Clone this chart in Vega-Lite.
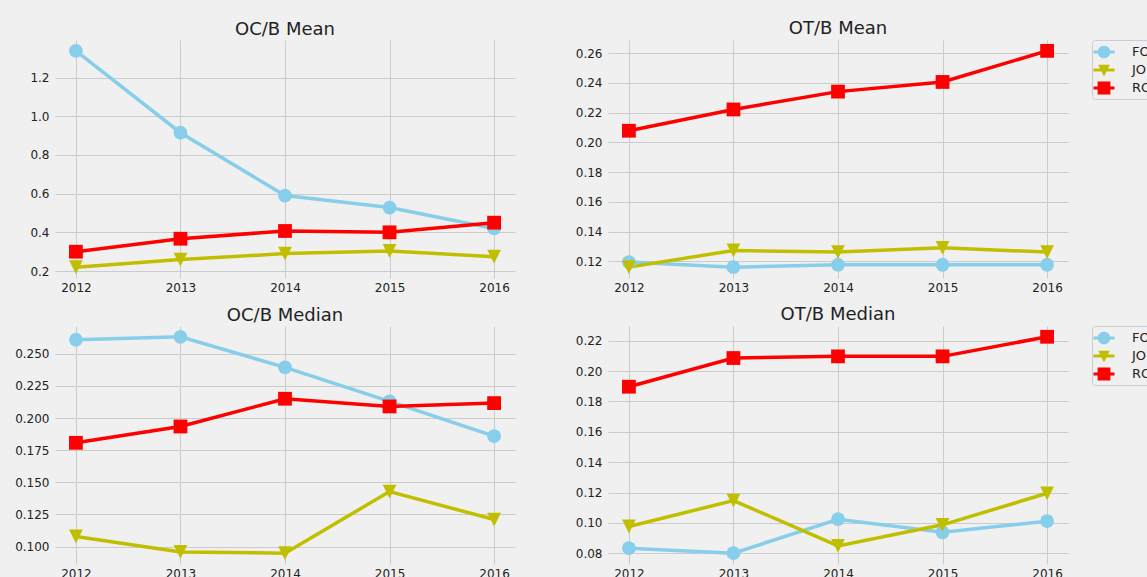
{
  "$schema": "https://vega.github.io/schema/vega-lite/v6.json",
  "background": "#f0f0f0",
  "padding": {"left": 14, "top": 20, "right": 0, "bottom": 0},
  "data": {"values": [
    {"panel": "OC/B Mean", "series": "FO", "year": 2012, "value": 1.338},
    {"panel": "OC/B Mean", "series": "FO", "year": 2013, "value": 0.915},
    {"panel": "OC/B Mean", "series": "FO", "year": 2014, "value": 0.590},
    {"panel": "OC/B Mean", "series": "FO", "year": 2015, "value": 0.528},
    {"panel": "OC/B Mean", "series": "FO", "year": 2016, "value": 0.420},
    {"panel": "OC/B Mean", "series": "JO", "year": 2012, "value": 0.220},
    {"panel": "OC/B Mean", "series": "JO", "year": 2013, "value": 0.259},
    {"panel": "OC/B Mean", "series": "JO", "year": 2014, "value": 0.290},
    {"panel": "OC/B Mean", "series": "JO", "year": 2015, "value": 0.304},
    {"panel": "OC/B Mean", "series": "JO", "year": 2016, "value": 0.274},
    {"panel": "OC/B Mean", "series": "RO", "year": 2012, "value": 0.300},
    {"panel": "OC/B Mean", "series": "RO", "year": 2013, "value": 0.367},
    {"panel": "OC/B Mean", "series": "RO", "year": 2014, "value": 0.407},
    {"panel": "OC/B Mean", "series": "RO", "year": 2015, "value": 0.400},
    {"panel": "OC/B Mean", "series": "RO", "year": 2016, "value": 0.450},
    {"panel": "OT/B Mean", "series": "FO", "year": 2012, "value": 0.1196},
    {"panel": "OT/B Mean", "series": "FO", "year": 2013, "value": 0.1162},
    {"panel": "OT/B Mean", "series": "FO", "year": 2014, "value": 0.1178},
    {"panel": "OT/B Mean", "series": "FO", "year": 2015, "value": 0.1178},
    {"panel": "OT/B Mean", "series": "FO", "year": 2016, "value": 0.1178},
    {"panel": "OT/B Mean", "series": "JO", "year": 2012, "value": 0.1162},
    {"panel": "OT/B Mean", "series": "JO", "year": 2013, "value": 0.1274},
    {"panel": "OT/B Mean", "series": "JO", "year": 2014, "value": 0.1263},
    {"panel": "OT/B Mean", "series": "JO", "year": 2015, "value": 0.1292},
    {"panel": "OT/B Mean", "series": "JO", "year": 2016, "value": 0.1263},
    {"panel": "OT/B Mean", "series": "RO", "year": 2012, "value": 0.2079},
    {"panel": "OT/B Mean", "series": "RO", "year": 2013, "value": 0.2222},
    {"panel": "OT/B Mean", "series": "RO", "year": 2014, "value": 0.2342},
    {"panel": "OT/B Mean", "series": "RO", "year": 2015, "value": 0.2407},
    {"panel": "OT/B Mean", "series": "RO", "year": 2016, "value": 0.2616},
    {"panel": "OC/B Median", "series": "FO", "year": 2012, "value": 0.2609},
    {"panel": "OC/B Median", "series": "FO", "year": 2013, "value": 0.2632},
    {"panel": "OC/B Median", "series": "FO", "year": 2014, "value": 0.2394},
    {"panel": "OC/B Median", "series": "FO", "year": 2015, "value": 0.2129},
    {"panel": "OC/B Median", "series": "FO", "year": 2016, "value": 0.1859},
    {"panel": "OC/B Median", "series": "JO", "year": 2012, "value": 0.1078},
    {"panel": "OC/B Median", "series": "JO", "year": 2013, "value": 0.0958},
    {"panel": "OC/B Median", "series": "JO", "year": 2014, "value": 0.0948},
    {"panel": "OC/B Median", "series": "JO", "year": 2015, "value": 0.1428},
    {"panel": "OC/B Median", "series": "JO", "year": 2016, "value": 0.1210},
    {"panel": "OC/B Median", "series": "RO", "year": 2012, "value": 0.1807},
    {"panel": "OC/B Median", "series": "RO", "year": 2013, "value": 0.1934},
    {"panel": "OC/B Median", "series": "RO", "year": 2014, "value": 0.2150},
    {"panel": "OC/B Median", "series": "RO", "year": 2015, "value": 0.2090},
    {"panel": "OC/B Median", "series": "RO", "year": 2016, "value": 0.2116},
    {"panel": "OT/B Median", "series": "FO", "year": 2012, "value": 0.0833},
    {"panel": "OT/B Median", "series": "FO", "year": 2013, "value": 0.0800},
    {"panel": "OT/B Median", "series": "FO", "year": 2014, "value": 0.1024},
    {"panel": "OT/B Median", "series": "FO", "year": 2015, "value": 0.0938},
    {"panel": "OT/B Median", "series": "FO", "year": 2016, "value": 0.1011},
    {"panel": "OT/B Median", "series": "JO", "year": 2012, "value": 0.0976},
    {"panel": "OT/B Median", "series": "JO", "year": 2013, "value": 0.1147},
    {"panel": "OT/B Median", "series": "JO", "year": 2014, "value": 0.0848},
    {"panel": "OT/B Median", "series": "JO", "year": 2015, "value": 0.0987},
    {"panel": "OT/B Median", "series": "JO", "year": 2016, "value": 0.1195},
    {"panel": "OT/B Median", "series": "RO", "year": 2012, "value": 0.1897},
    {"panel": "OT/B Median", "series": "RO", "year": 2013, "value": 0.2086},
    {"panel": "OT/B Median", "series": "RO", "year": 2014, "value": 0.2097},
    {"panel": "OT/B Median", "series": "RO", "year": 2015, "value": 0.2097},
    {"panel": "OT/B Median", "series": "RO", "year": 2016, "value": 0.2226}
  ]},
  "columns": 2,
  "spacing": {"row": 13, "column": 60},
  "resolve": {
    "scale": {"x": "independent", "y": "independent", "color": "independent", "shape": "independent"},
    "axis": {"x": "independent", "y": "independent"},
    "legend": {"color": "independent", "shape": "independent"}
  },
  "concat": [
    {
      "title": {"text": "OC/B Mean"},
      "width": 460, "height": 238,
      "transform": [{"filter": "datum.panel === 'OC/B Mean'"}],
      "encoding": {
        "x": {"field": "year", "type": "quantitative", "scale": {"domain": [2011.8, 2016.2], "nice": false, "zero": false}, "axis": {"values": [2012, 2013, 2014, 2015, 2016], "format": "d", "title": null}},
        "y": {"field": "value", "type": "quantitative", "scale": {"domain": [0.164, 1.394], "nice": false, "zero": false}, "axis": {"values": [0.2, 0.4, 0.6, 0.8, 1.0, 1.2], "format": ".1f", "title": null}},
        "color": {"field": "series", "type": "nominal", "scale": {"domain": ["FO", "JO", "RO"], "range": ["#87ceeb", "#bfbf00", "#ff0000"]}, "legend": null}
      },
      "layer": [
        {"mark": {"type": "line", "strokeWidth": 3.5}},
        {"mark": {"type": "point", "filled": true, "opacity": 1, "size": 190},
         "encoding": {"shape": {"field": "series", "type": "nominal", "scale": {"domain": ["FO", "JO", "RO"], "range": ["circle", "M-1,-1L1,-1L0,1Z", "square"]}, "legend": null}}}
      ]
    },
    {
      "title": {"text": "OT/B Mean"},
      "width": 460, "height": 238,
      "transform": [{"filter": "datum.panel === 'OT/B Mean'"}],
      "encoding": {
        "x": {"field": "year", "type": "quantitative", "scale": {"domain": [2011.8, 2016.2], "nice": false, "zero": false}, "axis": {"values": [2012, 2013, 2014, 2015, 2016], "format": "d", "title": null}},
        "y": {"field": "value", "type": "quantitative", "scale": {"domain": [0.1089, 0.2689], "nice": false, "zero": false}, "axis": {"values": [0.12, 0.14, 0.16, 0.18, 0.20, 0.22, 0.24, 0.26], "format": ".2f", "title": null}}
      },
      "resolve": {"scale": {"shape": "independent", "color": "independent"}, "legend": {"color": "independent", "shape": "independent"}},
      "layer": [
        {"mark": {"type": "line", "strokeWidth": 3.5},
         "encoding": {"color": {"field": "series", "type": "nominal", "scale": {"domain": ["FO", "JO", "RO"], "range": ["#87ceeb", "#bfbf00", "#ff0000"]}, "legend": null}}},
        {"mark": {"type": "point", "filled": true, "opacity": 1, "size": 190},
         "encoding": {
           "color": {"field": "series", "type": "nominal", "scale": {"domain": ["FO", "JO", "RO"], "range": ["#87ceeb", "#bfbf00", "#ff0000"]}, "legend": null},
           "shape": {"field": "series", "type": "nominal", "scale": {"domain": ["FO", "JO", "RO"], "range": ["circle", "M-1,-1L1,-1L0,1Z", "square"]}, "legend": null}}},
        {"transform": [{"filter": "false"}],
         "mark": {"type": "point", "filled": true, "opacity": 1},
         "encoding": {
           "color": {"field": "series", "type": "nominal", "scale": {"domain": ["FO", "JO", "RO"], "range": ["#87ceeb", "#bfbf00", "#ff0000"]},
             "legend": {"title": null, "orient": "right", "offset": 24, "padding": 4, "fillColor": "#f0f0f0", "strokeColor": "#cccccc", "cornerRadius": 3, "symbolSize": 256, "symbolStrokeWidth": 0, "symbolOpacity": 1, "labelFontSize": 13, "labelOffset": 20, "rowPadding": 3}},
           "shape": {"field": "series", "type": "nominal", "scale": {"domain": ["FO", "JO", "RO"], "range": ["M-1.31,-0.19H1.31V0.19H-1.31Z M-0.79,0A0.79,0.79 0 1,1 0.79,0A0.79,0.79 0 1,1 -0.79,0Z", "M-1.31,-0.19H1.31V0.19H-1.31Z M-0.72,-0.65L0.72,-0.65L0,0.8Z", "M-1.31,-0.19H1.31V0.19H-1.31Z M-0.8,-0.8H0.8V0.8H-0.8Z"]},
             "legend": {"title": null, "orient": "right", "offset": 24, "padding": 4, "fillColor": "#f0f0f0", "strokeColor": "#cccccc", "cornerRadius": 3, "symbolSize": 256, "symbolStrokeWidth": 0, "symbolOpacity": 1, "labelFontSize": 13, "labelOffset": 20, "rowPadding": 3}}
         }}
      ]
    },
    {
      "title": {"text": "OC/B Median"},
      "width": 460, "height": 238,
      "transform": [{"filter": "datum.panel === 'OC/B Median'"}],
      "encoding": {
        "x": {"field": "year", "type": "quantitative", "scale": {"domain": [2011.8, 2016.2], "nice": false, "zero": false}, "axis": {"values": [2012, 2013, 2014, 2015, 2016], "format": "d", "title": null}},
        "y": {"field": "value", "type": "quantitative", "scale": {"domain": [0.0864, 0.2716], "nice": false, "zero": false}, "axis": {"values": [0.1, 0.125, 0.15, 0.175, 0.2, 0.225, 0.25], "format": ".3f", "title": null}},
        "color": {"field": "series", "type": "nominal", "scale": {"domain": ["FO", "JO", "RO"], "range": ["#87ceeb", "#bfbf00", "#ff0000"]}, "legend": null}
      },
      "layer": [
        {"mark": {"type": "line", "strokeWidth": 3.5}},
        {"mark": {"type": "point", "filled": true, "opacity": 1, "size": 190},
         "encoding": {"shape": {"field": "series", "type": "nominal", "scale": {"domain": ["FO", "JO", "RO"], "range": ["circle", "M-1,-1L1,-1L0,1Z", "square"]}, "legend": null}}}
      ]
    },
    {
      "title": {"text": "OT/B Median"},
      "width": 460, "height": 238,
      "transform": [{"filter": "datum.panel === 'OT/B Median'"}],
      "encoding": {
        "x": {"field": "year", "type": "quantitative", "scale": {"domain": [2011.8, 2016.2], "nice": false, "zero": false}, "axis": {"values": [2012, 2013, 2014, 2015, 2016], "format": "d", "title": null}},
        "y": {"field": "value", "type": "quantitative", "scale": {"domain": [0.0729, 0.2297], "nice": false, "zero": false}, "axis": {"values": [0.08, 0.10, 0.12, 0.14, 0.16, 0.18, 0.20, 0.22], "format": ".2f", "title": null}}
      },
      "resolve": {"scale": {"shape": "independent", "color": "independent"}, "legend": {"color": "independent", "shape": "independent"}},
      "layer": [
        {"mark": {"type": "line", "strokeWidth": 3.5},
         "encoding": {"color": {"field": "series", "type": "nominal", "scale": {"domain": ["FO", "JO", "RO"], "range": ["#87ceeb", "#bfbf00", "#ff0000"]}, "legend": null}}},
        {"mark": {"type": "point", "filled": true, "opacity": 1, "size": 190},
         "encoding": {
           "color": {"field": "series", "type": "nominal", "scale": {"domain": ["FO", "JO", "RO"], "range": ["#87ceeb", "#bfbf00", "#ff0000"]}, "legend": null},
           "shape": {"field": "series", "type": "nominal", "scale": {"domain": ["FO", "JO", "RO"], "range": ["circle", "M-1,-1L1,-1L0,1Z", "square"]}, "legend": null}}},
        {"transform": [{"filter": "false"}],
         "mark": {"type": "point", "filled": true, "opacity": 1},
         "encoding": {
           "color": {"field": "series", "type": "nominal", "scale": {"domain": ["FO", "JO", "RO"], "range": ["#87ceeb", "#bfbf00", "#ff0000"]},
             "legend": {"title": null, "orient": "right", "offset": 24, "padding": 4, "fillColor": "#f0f0f0", "strokeColor": "#cccccc", "cornerRadius": 3, "symbolSize": 256, "symbolStrokeWidth": 0, "symbolOpacity": 1, "labelFontSize": 13, "labelOffset": 20, "rowPadding": 3}},
           "shape": {"field": "series", "type": "nominal", "scale": {"domain": ["FO", "JO", "RO"], "range": ["M-1.31,-0.19H1.31V0.19H-1.31Z M-0.79,0A0.79,0.79 0 1,1 0.79,0A0.79,0.79 0 1,1 -0.79,0Z", "M-1.31,-0.19H1.31V0.19H-1.31Z M-0.72,-0.65L0.72,-0.65L0,0.8Z", "M-1.31,-0.19H1.31V0.19H-1.31Z M-0.8,-0.8H0.8V0.8H-0.8Z"]},
             "legend": {"title": null, "orient": "right", "offset": 24, "padding": 4, "fillColor": "#f0f0f0", "strokeColor": "#cccccc", "cornerRadius": 3, "symbolSize": 256, "symbolStrokeWidth": 0, "symbolOpacity": 1, "labelFontSize": 13, "labelOffset": 20, "rowPadding": 3}}
         }}
      ]
    }
  ],
  "config": {
    "font": "DejaVu Sans",
    "view": {"stroke": null, "fill": "#f0f0f0"},
    "title": {"fontSize": 18, "fontWeight": "normal", "color": "#222222", "anchor": "middle", "baseline": "alphabetic", "offset": 1.5},
    "axis": {"domain": false, "ticks": false, "tickSize": 0, "grid": true, "gridColor": "#cbcbcb", "gridWidth": 1, "labelFontSize": 12, "labelColor": "#222222", "labelFont": "DejaVu Sans"},
    "axisX": {"labelPadding": 4},
    "axisY": {"labelPadding": 6},
    "legend": {"labelFont": "DejaVu Sans", "labelColor": "#222222"}
  }
}
